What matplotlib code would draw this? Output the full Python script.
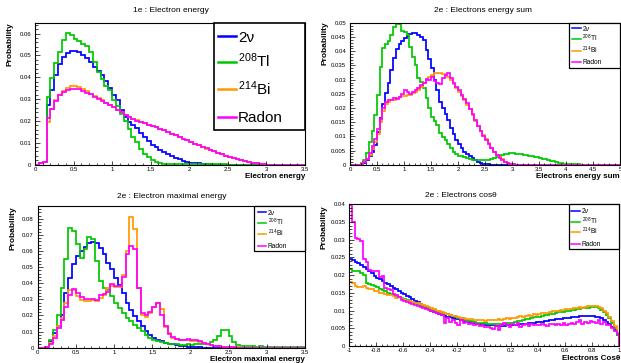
import numpy as np
import matplotlib
matplotlib.use('Agg')
import matplotlib.pyplot as plt
from matplotlib.ticker import MultipleLocator, FuncFormatter
from matplotlib.lines import Line2D
from matplotlib.patches import Rectangle

plt.rcParams['font.family'] = ['Liberation Sans', 'DejaVu Sans']
plt.rcParams['mathtext.fontset'] = 'custom'
plt.rcParams['mathtext.rm'] = 'Liberation Sans'
plt.rcParams['mathtext.default'] = 'regular'

W, H = 621, 363

labels = ['2ν', '$^{208}$Tl', '$^{214}$Bi', 'Radon']
colors = ['#0000ff', '#00c800', '#ff9900', '#ff00ff']

# ---- 1e : electron energy (0..3.5, 70 bins) ----
e1_2nu = [0.0, 0.0005, 0.001, 0.0274, 0.0340, 0.0408, 0.0459, 0.0492, 0.0512, 0.0522,
          0.0522, 0.0515, 0.0503, 0.0487, 0.0470, 0.0448, 0.0428, 0.0411, 0.0385, 0.0352,
          0.0317, 0.0297, 0.0250, 0.0216, 0.0195, 0.0180, 0.0166, 0.0145, 0.0126, 0.0107,
          0.0091, 0.0080, 0.0067, 0.0057, 0.0046, 0.0037, 0.0029, 0.0023, 0.0017, 0.0012,
          0.0009, 0.0006, 0.0005, 0.0003, 0.0002, 0.0001, 0, 0, 0, 0,
          0, 0, 0, 0, 0, 0, 0, 0, 0, 0,
          0, 0, 0, 0, 0, 0, 0, 0, 0, 0]
e1_tl = [0.0, 0.0005, 0.001, 0.0310, 0.0398, 0.0465, 0.0515, 0.0572, 0.0604, 0.0595,
         0.0576, 0.0566, 0.0553, 0.0543, 0.0515, 0.0470, 0.0424, 0.0393, 0.0362, 0.0340,
         0.0294, 0.0266, 0.0232, 0.0199, 0.0164, 0.0128, 0.0102, 0.0072, 0.0049, 0.0034,
         0.0021, 0.0012, 0.0006, 0.0003, 0.0002, 0.0002, 0.0001, 0.0001, 0.0001, 0.0001,
         0.0001, 0.0001, 0.0001, 0.0001, 0.0001, 0.0001, 0.0001, 0.0001, 0.0001, 0.0001,
         0, 0, 0, 0, 0, 0, 0, 0, 0, 0,
         0, 0, 0, 0, 0, 0, 0, 0, 0, 0]
e1_bi = [0.0, 0.0005, 0.001, 0.0194, 0.0255, 0.0297, 0.0320, 0.0336, 0.0352, 0.0359,
         0.0360, 0.0355, 0.0347, 0.0336, 0.0324, 0.0313, 0.0304, 0.0294, 0.0284, 0.0272,
         0.0263, 0.0251, 0.0239, 0.0228, 0.0217, 0.0210, 0.0202, 0.0194, 0.0190, 0.0183,
         0.0177, 0.0171, 0.0165, 0.0157, 0.0150, 0.0142, 0.0135, 0.0127, 0.0119, 0.0112,
         0.0104, 0.0096, 0.0089, 0.0081, 0.0073, 0.0067, 0.0061, 0.0054, 0.0047, 0.0041,
         0.0035, 0.0029, 0.0024, 0.0020, 0.0015, 0.0011, 0.0008, 0.0005, 0.0003, 0.0002,
         0, 0, 0, 0, 0, 0, 0, 0, 0, 0]
e1_rn = [0.0, 0.0005, 0.001, 0.0213, 0.0255, 0.0292, 0.0318, 0.0333, 0.0343, 0.0348,
         0.0347, 0.0344, 0.0338, 0.0330, 0.0321, 0.0311, 0.0302, 0.0292, 0.0283, 0.0272,
         0.0262, 0.0251, 0.0240, 0.0229, 0.0218, 0.0209, 0.0201, 0.0195, 0.0189, 0.0182,
         0.0176, 0.0170, 0.0164, 0.0157, 0.0149, 0.0142, 0.0134, 0.0126, 0.0119, 0.0111,
         0.0103, 0.0096, 0.0088, 0.0081, 0.0074, 0.0067, 0.0060, 0.0053, 0.0047, 0.0041,
         0.0035, 0.0029, 0.0024, 0.0019, 0.0015, 0.0011, 0.0008, 0.0005, 0.0003, 0.0002,
         0, 0, 0, 0, 0, 0, 0, 0, 0, 0]

# ---- 2e : energy sum (0..5, 100 bins) ----
z = [0] * 10
sum_2nu = ([0, 0, 0, 0, 0.0001, 0.0006, 0.0015, 0.0030, 0.0045, 0.0070,
            0.0115, 0.0165, 0.0215, 0.0252, 0.0290, 0.0334, 0.0378, 0.0408, 0.0425, 0.0435,
            0.0446, 0.0454, 0.0461, 0.0463, 0.0464, 0.0458, 0.0450, 0.0440, 0.0405, 0.0372,
            0.0340, 0.0300, 0.0262, 0.0222, 0.0200, 0.0180, 0.0158, 0.0130, 0.0108, 0.0088,
            0.0072, 0.0058, 0.0046, 0.0038, 0.0030, 0.0022, 0.0015, 0.0010, 0.0006, 0.0003,
            0.0002, 0.0001, 0, 0, 0, 0, 0, 0, 0, 0] + z * 4)
sum_tl = ([0, 0, 0, 0, 0.0005, 0.0015, 0.0040, 0.0080, 0.0120, 0.0175,
           0.0246, 0.0346, 0.0411, 0.0425, 0.0437, 0.0457, 0.0487, 0.0497, 0.0497, 0.0470,
           0.0468, 0.0457, 0.0416, 0.0381, 0.0352, 0.0305, 0.0292, 0.0270, 0.0234, 0.0199,
           0.0170, 0.0155, 0.0140, 0.0111, 0.0098, 0.0087, 0.0072, 0.0058, 0.0045, 0.0038,
           0.0032, 0.0029, 0.0026, 0.0023, 0.0020, 0.0018, 0.0016, 0.0015, 0.0015, 0.0015,
           0.0016, 0.0018, 0.0021, 0.0025, 0.0028, 0.0031, 0.0035, 0.0037, 0.0039, 0.0040,
           0.0040, 0.0039, 0.0038, 0.0037, 0.0035, 0.0033, 0.0032, 0.0030, 0.0028, 0.0026,
           0.0024, 0.0021, 0.0019, 0.0016, 0.0014, 0.0012, 0.0009, 0.0007, 0.0005, 0.0004,
           0.0003, 0.0002, 0.0001, 0.0001, 0.0001, 0, 0, 0, 0, 0] + z)
sum_bi = ([0, 0, 0, 0, 0.0001, 0.0008, 0.0020, 0.0035, 0.0055, 0.0080,
           0.0110, 0.0150, 0.0190, 0.0215, 0.0222, 0.0228, 0.0230, 0.0235, 0.0238, 0.0242,
           0.0243, 0.0245, 0.0246, 0.0252, 0.0258, 0.0265, 0.0275, 0.0287, 0.0300, 0.0308,
           0.0315, 0.0322, 0.0323, 0.0322, 0.0320, 0.0318, 0.0310, 0.0298, 0.0285, 0.0272,
           0.0258, 0.0242, 0.0228, 0.0212, 0.0196, 0.0175, 0.0155, 0.0138, 0.0120, 0.0105,
           0.0090, 0.0075, 0.0060, 0.0045, 0.0035, 0.0026, 0.0019, 0.0011, 0.0005, 0.0002,
           0.0001, 0, 0, 0, 0, 0, 0, 0, 0, 0] + z * 3)
sum_rn = ([0, 0, 0, 0, 0.0001, 0.0008, 0.0020, 0.0040, 0.0065, 0.0090,
           0.0125, 0.0162, 0.0200, 0.0220, 0.0228, 0.0230, 0.0236, 0.0233, 0.0240, 0.0248,
           0.0262, 0.0255, 0.0250, 0.0258, 0.0262, 0.0270, 0.0280, 0.0290, 0.0302, 0.0300,
           0.0310, 0.0295, 0.0290, 0.0285, 0.0305, 0.0318, 0.0322, 0.0305, 0.0290, 0.0275,
           0.0262, 0.0245, 0.0232, 0.0218, 0.0198, 0.0178, 0.0156, 0.0136, 0.0118, 0.0102,
           0.0088, 0.0073, 0.0058, 0.0044, 0.0033, 0.0024, 0.0017, 0.0010, 0.0005, 0.0002,
           0.0001, 0, 0, 0, 0, 0, 0, 0, 0, 0] + z * 3)

# ---- 2e : maximal energy (0..3.5, 70 bins) ----
max_2nu = [0, 0, 0.0005, 0.0040, 0.0090, 0.0133, 0.0205, 0.0340, 0.0434, 0.0520,
           0.0570, 0.0600, 0.0627, 0.0648, 0.0656, 0.0648, 0.0620, 0.0580, 0.0527, 0.0486,
           0.0434, 0.0392, 0.0340, 0.0278, 0.0233, 0.0195, 0.0164, 0.0133, 0.0102, 0.0081,
           0.0062, 0.0050, 0.0040, 0.0031, 0.0025, 0.0020, 0.0015, 0.0012, 0.0008, 0.0006,
           0.0004, 0.0003, 0.0002, 0.0001, 0, 0, 0, 0, 0, 0] + z * 2
max_tl = [0, 0, 0.0005, 0.0050, 0.0112, 0.0205, 0.0372, 0.0550, 0.0745, 0.0725,
          0.0641, 0.0560, 0.0610, 0.0687, 0.0673, 0.0540, 0.0413, 0.0372, 0.0361, 0.0320,
          0.0278, 0.0247, 0.0216, 0.0185, 0.0164, 0.0143, 0.0123, 0.0102, 0.0081, 0.0062,
          0.0050, 0.0040, 0.0033, 0.0028, 0.0024, 0.0021, 0.0020, 0.0019, 0.0019, 0.0020,
          0.0019, 0.0020, 0.0021, 0.0023, 0.0025, 0.0034, 0.0050, 0.0075, 0.0108, 0.0110,
          0.0075, 0.0034, 0.0014, 0.0010, 0.0009, 0.0008, 0.0008, 0.0007, 0.0008, 0.0007,
          0.0006, 0.0006, 0.0005, 0.0005, 0.0004, 0.0004, 0.0003, 0.0003, 0.0002, 0.0002]
max_bi = [0, 0, 0.0003, 0.0030, 0.0071, 0.0133, 0.0185, 0.0278, 0.0357, 0.0357,
          0.0324, 0.0299, 0.0289, 0.0289, 0.0295, 0.0289, 0.0310, 0.0330, 0.0372, 0.0386,
          0.0380, 0.0380, 0.0454, 0.0600, 0.0811, 0.0737, 0.0373, 0.0203, 0.0193, 0.0214,
          0.0250, 0.0276, 0.0240, 0.0131, 0.0090, 0.0062, 0.0052, 0.0050, 0.0048, 0.0045,
          0.0044, 0.0040, 0.0035, 0.0028, 0.0021, 0.0015, 0.0011, 0.0008, 0.0006, 0.0004,
          0.0003, 0.0002, 0.0002, 0.0001, 0, 0, 0, 0, 0, 0] + z
max_rn = [0, 0, 0.0003, 0.0025, 0.0060, 0.0120, 0.0170, 0.0255, 0.0330, 0.0365,
          0.0340, 0.0315, 0.0305, 0.0300, 0.0305, 0.0295, 0.0325, 0.0335, 0.0345, 0.0395,
          0.0385, 0.0385, 0.0440, 0.0580, 0.0630, 0.0610, 0.0370, 0.0215, 0.0205, 0.0220,
          0.0255, 0.0278, 0.0200, 0.0135, 0.0085, 0.0065, 0.0055, 0.0050, 0.0048, 0.0052,
          0.0048, 0.0045, 0.0040, 0.0032, 0.0024, 0.0017, 0.0012, 0.0009, 0.0006, 0.0004,
          0.0003, 0.0002, 0.0001, 0, 0, 0, 0, 0, 0, 0] + z

# ---- 2e : cos theta (-1..1, 100 bins) ----
cos_2nu = [0.0246, 0.0243, 0.0238, 0.0233, 0.0228, 0.0222, 0.0217, 0.0211, 0.0205, 0.0199,
           0.0193, 0.0189, 0.0184, 0.0179, 0.0174, 0.0169, 0.0165, 0.0160, 0.0156, 0.0151,
           0.0147, 0.0142, 0.0137, 0.0132, 0.0128, 0.0123, 0.0118, 0.0113, 0.0108, 0.0104,
           0.0100, 0.0097, 0.0094, 0.0091, 0.0088, 0.0086, 0.0083, 0.0081, 0.0079, 0.0077,
           0.0075, 0.0073, 0.0071, 0.0069, 0.0067, 0.0066, 0.0064, 0.0063, 0.0062, 0.0061,
           0.0060, 0.0059, 0.0058, 0.0058, 0.0057, 0.0057, 0.0057, 0.0057, 0.0058, 0.0058,
           0.0059, 0.0059, 0.0060, 0.0061, 0.0062, 0.0063, 0.0064, 0.0065, 0.0066, 0.0067,
           0.0068, 0.0069, 0.0070, 0.0071, 0.0073, 0.0074, 0.0075, 0.0076, 0.0077, 0.0078,
           0.0079, 0.0080, 0.0081, 0.0082, 0.0083, 0.0084, 0.0084, 0.0085, 0.0085, 0.0085,
           0.0084, 0.0083, 0.0081, 0.0078, 0.0074, 0.0069, 0.0063, 0.0055, 0.0045, 0.0030]
cos_tl = [0.0218, 0.0213, 0.0213, 0.0212, 0.0205, 0.0200, 0.0178, 0.0176, 0.0172, 0.0168,
          0.0166, 0.0162, 0.0158, 0.0156, 0.0150, 0.0147, 0.0145, 0.0140, 0.0138, 0.0135,
          0.0132, 0.0130, 0.0127, 0.0124, 0.0121, 0.0119, 0.0116, 0.0113, 0.0110, 0.0108,
          0.0103, 0.0101, 0.0098, 0.0096, 0.0094, 0.0091, 0.0090, 0.0087, 0.0084, 0.0083,
          0.0080, 0.0078, 0.0076, 0.0073, 0.0071, 0.0070, 0.0067, 0.0066, 0.0065, 0.0064,
          0.0064, 0.0063, 0.0062, 0.0063, 0.0061, 0.0062, 0.0063, 0.0062, 0.0064, 0.0066,
          0.0066, 0.0068, 0.0071, 0.0070, 0.0073, 0.0075, 0.0076, 0.0079, 0.0081, 0.0082,
          0.0083, 0.0085, 0.0087, 0.0088, 0.0090, 0.0091, 0.0093, 0.0095, 0.0096, 0.0097,
          0.0099, 0.0100, 0.0101, 0.0103, 0.0104, 0.0105, 0.0107, 0.0107, 0.0108, 0.0110,
          0.0110, 0.0110, 0.0108, 0.0103, 0.0096, 0.0088, 0.0078, 0.0066, 0.0052, 0.0032]
cos_bi = [0.0181, 0.0178, 0.0168, 0.0166, 0.0166, 0.0170, 0.0163, 0.0160, 0.0161, 0.0156,
          0.0154, 0.0150, 0.0151, 0.0146, 0.0143, 0.0144, 0.0140, 0.0136, 0.0137, 0.0133,
          0.0131, 0.0128, 0.0127, 0.0124, 0.0122, 0.0120, 0.0118, 0.0115, 0.0113, 0.0111,
          0.0106, 0.0104, 0.0100, 0.0098, 0.0095, 0.0092, 0.0090, 0.0088, 0.0086, 0.0084,
          0.0082, 0.0080, 0.0078, 0.0077, 0.0076, 0.0075, 0.0073, 0.0074, 0.0072, 0.0073,
          0.0071, 0.0072, 0.0073, 0.0072, 0.0074, 0.0075, 0.0074, 0.0077, 0.0078, 0.0077,
          0.0080, 0.0079, 0.0082, 0.0084, 0.0083, 0.0086, 0.0087, 0.0086, 0.0089, 0.0088,
          0.0091, 0.0092, 0.0094, 0.0093, 0.0096, 0.0098, 0.0100, 0.0099, 0.0102, 0.0103,
          0.0104, 0.0105, 0.0104, 0.0106, 0.0108, 0.0109, 0.0108, 0.0110, 0.0112, 0.0114,
          0.0113, 0.0114, 0.0111, 0.0106, 0.0100, 0.0092, 0.0082, 0.0070, 0.0056, 0.0036]
cos_rn = [0.0397, 0.0350, 0.0305, 0.0302, 0.0295, 0.0245, 0.0238, 0.0214, 0.0212, 0.0212,
          0.0212, 0.0195, 0.0197, 0.0163, 0.0160, 0.0158, 0.0148, 0.0144, 0.0139, 0.0130,
          0.0128, 0.0124, 0.0121, 0.0118, 0.0115, 0.0112, 0.0110, 0.0106, 0.0104, 0.0101,
          0.0099, 0.0097, 0.0094, 0.0091, 0.0088, 0.0064, 0.0080, 0.0068, 0.0072, 0.0066,
          0.0060, 0.0072, 0.0065, 0.0068, 0.0062, 0.0066, 0.0060, 0.0062, 0.0057, 0.0058,
          0.0055, 0.0054, 0.0050, 0.0049, 0.0056, 0.0045, 0.0060, 0.0065, 0.0058, 0.0055,
          0.0062, 0.0058, 0.0066, 0.0054, 0.0060, 0.0061, 0.0056, 0.0062, 0.0060, 0.0059,
          0.0058, 0.0062, 0.0060, 0.0057, 0.0061, 0.0063, 0.0059, 0.0061, 0.0058, 0.0064,
          0.0060, 0.0062, 0.0066, 0.0062, 0.0068, 0.0072, 0.0063, 0.0068, 0.0066, 0.0070,
          0.0068, 0.0064, 0.0072, 0.0062, 0.0068, 0.0060, 0.0058, 0.0052, 0.0042, 0.0035]

fig = plt.figure(figsize=(W / 100, H / 100), dpi=100)


def fx(x):
    return x / W


def fy(y):
    return 1 - y / H


def tick_fmt(v, pos):
    v = round(v, 6) + 0.0
    return '0' if v == 0 else f'{v:g}'


def panel(rect, lo, hi, series, ylim, xmaj, ymaj, title, tpos, xlabel, xlpos, ylpos):
    l, t, r, b = rect
    ax = fig.add_axes([fx(l), fy(b), (r - l) / W, (b - t) / H])
    edges = np.linspace(lo, hi, len(series[0]) + 1)
    for vals, c in zip(series, colors):
        ax.stairs(vals, edges, color=c, lw=1.25)
    ax.set_xlim(lo, hi)
    ax.set_ylim(0, ylim)
    ax.xaxis.set_major_locator(MultipleLocator(xmaj))
    ax.xaxis.set_minor_locator(MultipleLocator(xmaj / 5))
    ax.yaxis.set_major_locator(MultipleLocator(ymaj))
    ax.yaxis.set_minor_locator(MultipleLocator(ymaj / 5))
    ax.xaxis.set_major_formatter(FuncFormatter(tick_fmt))
    ax.yaxis.set_major_formatter(FuncFormatter(tick_fmt))
    ax.tick_params(axis='both', which='both', direction='in', top=False, right=False,
                   labelsize=4.3, width=0.5)
    ax.tick_params(axis='x', which='major', length=3, pad=1.5)
    ax.tick_params(axis='x', which='minor', length=1.5)
    ax.tick_params(axis='y', which='major', length=3.6, pad=2.8)
    ax.tick_params(axis='y', which='minor', length=1.8)
    for s in ax.spines.values():
        s.set_linewidth(0.8)
    fig.text(fx(tpos[0]), fy(tpos[1]), title, fontsize=6, ha='center', va='center')
    fig.text(fx(xlpos[0]), fy(xlpos[1]), xlabel, fontsize=5.8, fontweight='bold',
             ha='right', va='center')
    fig.text(fx(ylpos[0]), fy(ylpos[1]), 'Probability', fontsize=6, fontweight='bold',
             rotation=90, ha='center', va='top')
    return ax


def legend(box, rows, xline, xtext, fs, lw, blw):
    l, t, r, b = box
    fig.add_artist(Rectangle((fx(l), fy(b)), (r - l) / W, (b - t) / H,
                             transform=fig.transFigure, facecolor='white',
                             edgecolor='black', lw=blw, zorder=5))
    off = 0.36 * fs * 100 / 72
    for y, c, name in zip(rows, colors, labels):
        fig.add_artist(Line2D([fx(xline[0]), fx(xline[1])], [fy(y), fy(y)],
                              transform=fig.transFigure, color=c, lw=lw, zorder=6))
        fig.text(fx(xtext), fy(y + off), name, fontsize=fs, ha='left',
                 va='baseline', zorder=6)


panel((35, 22.7, 305, 164.5), 0, 3.5, [e1_2nu, e1_tl, e1_bi, e1_rn], 0.065, 0.5, 0.01,
      '1e : Electron energy', (170.5, 10), 'Electron energy', (305, 176.5), (10, 22))
panel((350, 22.7, 620, 164.7), 0, 5, [sum_2nu, sum_tl, sum_bi, sum_rn], 0.0501, 0.5, 0.005,
      '2e : Electrons energy sum', (483, 10), 'Electrons energy sum', (620, 176.5), (325, 21.7))
panel((37.7, 206, 305, 347.7), 0, 3.5, [max_2nu, max_tl, max_bi, max_rn], 0.088, 0.5, 0.01,
      '2e : Electron maximal energy', (171.7, 196), 'Electron maximal energy', (305, 359.5),
      (12.7, 206.7))
panel((349.3, 204.3, 619.3, 346), -1, 1, [cos_2nu, cos_tl, cos_bi, cos_rn], 0.04, 0.2, 0.005,
      '2e : Electrons cosθ', (461, 195.5), 'Electrons Cosθ', (620, 359), (324, 205))

legend((214, 22.7, 305, 130), [36, 62, 89, 117], (218, 236), 238, 11, 1.8, 1.2)
legend((569, 22.7, 620, 68.3), [28.3, 39, 50.7, 61.7], (571.5, 580.5), 582.5, 4.8, 1.1, 0.9)
legend((254, 206, 305, 250.7), [212.3, 223.3, 234.3, 245.5], (258, 266), 268, 4.8, 1.1, 0.9)
legend((569, 204.3, 619.3, 249), [210.7, 221.7, 232.3, 243.5], (571, 580), 582, 4.8, 1.1, 0.9)

fig.savefig('out.png', dpi=100)
